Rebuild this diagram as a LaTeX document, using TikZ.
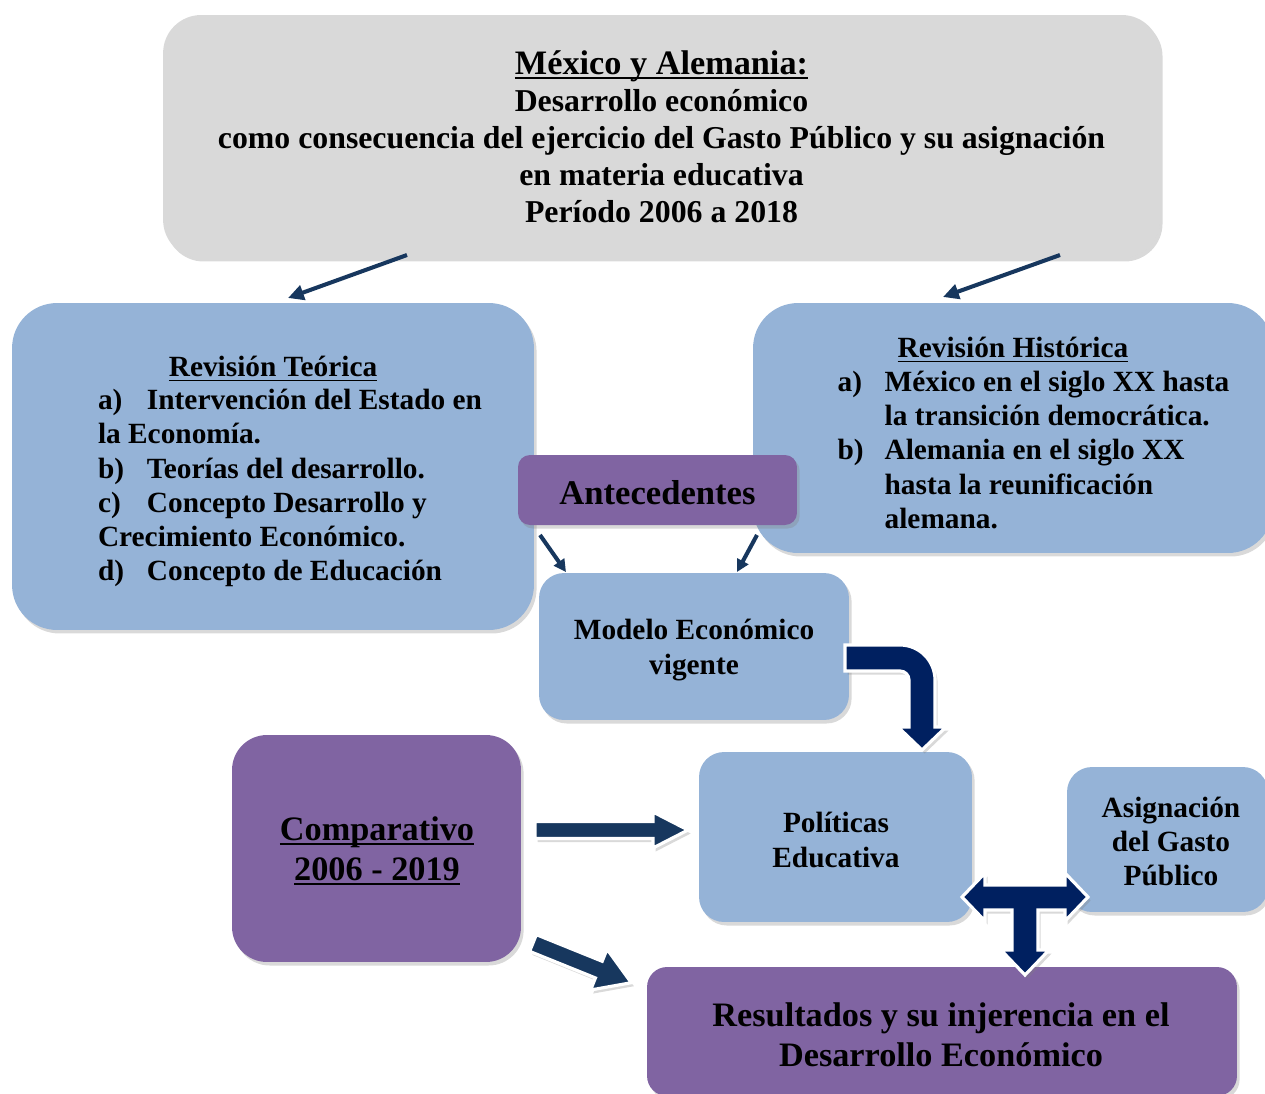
\documentclass[tikz,border=0pt]{standalone}
\usepackage{fontspec}
\setmainfont{Liberation Serif}
\usetikzlibrary{positioning, shadows, arrows.meta}

\definecolor{titlegray}{HTML}{D9D9D9}
\definecolor{boxblue}{HTML}{95B3D7}
\definecolor{boxpurple}{HTML}{8064A2}
\definecolor{arrownavy}{HTML}{17375E}
\definecolor{deepnavy}{HTML}{002060}

% thick underline
\newcommand{\thickul}[1]{\leavevmode\setbox0\hbox{#1}\rlap{\rule[-2.6pt]{\wd0}{1pt}}\box0}

% block arrow: start, angle, length, half shaft, half head, head length
\newcommand{\fatarrow}[6]{%
	\begin{scope}[shift={#1}, rotate=#2]
		\filldraw[fatarrowstyle] (0,-#4) -- ({#3-#6},-#4) -- ({#3-#6},-#5) -- (#3,0)
		-- ({#3-#6},#5) -- ({#3-#6},#4) -- (0,#4) -- cycle;
	\end{scope}}

\begin{document}
\begin{tikzpicture}[
		x=0.02cm, y=-0.02cm,
		>={Triangle[length=9pt, width=8.5pt]},
		box/.style={rectangle, inner sep=0pt, align=center,
			drop shadow={shadow xshift=1.5pt, shadow yshift=-2pt, opacity=0.3}},
		graybox/.style={box, fill=titlegray},
		bluebox/.style={box, fill=boxblue},
		purplebox/.style={box, fill=boxpurple},
		bodytext/.style={font=\bfseries\fontsize{16.7}{19.4}\selectfont, inner sep=0pt},
		boxtext/.style={font=\bfseries\fontsize{16.7}{19.4}\selectfont, inner sep=0pt, align=center},
		bigtext/.style={font=\bfseries\fontsize{19.5}{22.8}\selectfont, inner sep=0pt, align=center},
		thinarrow/.style={->, line width=2.3pt, draw=arrownavy},
		fatarrowstyle/.style={fill=arrownavy, draw=white, line width=1.8pt,
			drop shadow={shadow xshift=1.5pt, shadow yshift=-2pt, opacity=0.3}},
		bentarrow/.style={fatarrowstyle, fill=deepnavy}
		]
		
		\clip (0,0) rectangle (1265,1093);
		
		% ==========================================
		% TITLE
		% ==========================================
		\node[graybox, minimum width=19.94cm, minimum height=4.86cm, rounded corners=0.76cm,
		font=\bfseries\fontsize{18.1}{21}\selectfont] (title) at (661.5,136.5) {
			{\fontsize{19.5}{21}\selectfont\thickul{México y Alemania:}}\\
			Desarrollo económico\\
			como consecuencia del ejercicio del Gasto Público y su asignación\\
			en materia educativa\\
			Período 2006 a 2018
		};
		
		% ==========================================
		% REVISION TEORICA
		% ==========================================
		\node[bluebox, minimum width=10.44cm, minimum height=6.54cm, rounded corners=0.9cm] (teorica) at (273,466.5) {};
		\node[bodytext] (teoricahead) at (273,369) {\thickul{Revisión Teórica}};
		\node[bodytext, align=left] (teoricabody) at (290,488) {
			\makebox[0.98cm][l]{a)}Intervención del Estado en\\
			la Economía.\\
			\makebox[0.98cm][l]{b)}Teorías del desarrollo.\\
			\makebox[0.98cm][l]{c)}Concepto Desarrollo y\\
			Crecimiento Económico.\\
			\makebox[0.98cm][l]{d)}Concepto de Educación
		};
		
		% ==========================================
		% REVISION HISTORICA
		% ==========================================
		\node[bluebox, minimum width=10.4cm, minimum height=5cm, rounded corners=0.9cm] (historica) at (1013,428) {};
		\node[bodytext] (historicahead) at (1013,350) {\thickul{Revisión Histórica}};
		\node[bodytext, align=left] (historicabody) at (1033.5,450) {
			\makebox[0.94cm][l]{a)}México en el siglo XX hasta\\
			\hspace*{0.94cm}la transición democrática.\\
			\makebox[0.94cm][l]{b)}Alemania en el siglo XX\\
			\hspace*{0.94cm}hasta la reunificación\\
			\hspace*{0.94cm}alemana.
		};
		
		% ==========================================
		% MIDDLE BOXES
		% ==========================================
		\node[purplebox, minimum width=5.58cm, minimum height=1.4cm, rounded corners=0.24cm] (antecedentes) at (657.5,490) {};
		\node[font=\bfseries\fontsize{19.7}{22}\selectfont, inner sep=0pt] (antecedentestext) at (657.5,493) {Antecedentes};
		
		\node[bluebox, minimum width=6.2cm, minimum height=2.94cm, rounded corners=0.5cm] (modelo) at (694,646.5) {};
		\node[boxtext] (modelotext) at (694,650) {Modelo Económico\\ vigente};
		
		\node[purplebox, minimum width=5.78cm, minimum height=4.54cm, rounded corners=0.7cm] (comparativo) at (376.5,848.5) {};
		\node[bigtext] (comparativotext) at (377,851) {\thickul{Comparativo}\\ \thickul{2006 - 2019}};
		
		\node[bluebox, minimum width=5.46cm, minimum height=3.4cm, rounded corners=0.5cm] (politicas) at (835.5,837) {};
		\node[boxtext] (politicastext) at (836,840) {Políticas\\ Educativa};
		
		\node[bluebox, minimum width=4.02cm, minimum height=2.9cm, rounded corners=0.5cm] (asignacion) at (1167.5,839.5) {};
		\node[boxtext] (asignaciontext) at (1171,841.5) {Asignación\\ del Gasto\\ Público};
		
		\node[purplebox, minimum width=11.8cm, minimum height=2.58cm, rounded corners=0.4cm] (resultados) at (942,1031.5) {};
		\node[bigtext] (resultadostext) at (941,1035) {Resultados y su injerencia en el\\ Desarrollo Económico};
		
		% ==========================================
		% THIN ARROWS
		% ==========================================
		\coordinate (titleleft) at (407,255);
		\coordinate (teoricatop) at (288,298);
		\coordinate (titleright) at (1060,255);
		\coordinate (historicatop) at (943,297);
		\coordinate (antleft) at (540,535);
		\coordinate (modeloleft) at (566,572);
		\coordinate (antright) at (757,535);
		\coordinate (modeloright) at (737,572);
		
		\draw[thinarrow] (titleleft) -- (teoricatop);
		\draw[thinarrow] (titleright) -- (historicatop);
		\draw[thinarrow, >={Triangle[length=7pt, width=7pt]}] (antleft) -- (modeloleft);
		\draw[thinarrow, >={Triangle[length=7pt, width=7pt]}] (antright) -- (modeloright);
		
		% ==========================================
		% BLOCK ARROWS
		% ==========================================
		\coordinate (cmpright) at (535,830);
		\coordinate (cmpdown) at (533,943);
		\fatarrow{(cmpright)}{0}{153}{8.5}{18}{35}
		\fatarrow{(cmpdown)}{-22}{106}{9}{22}{35}
		
		% bent arrow from modelo down to politicas
		\filldraw[bentarrow] (845,645) -- (900,645) arc[start angle=-90, end angle=0, radius=35]
		-- (935,727) -- (946,727) -- (922,750) -- (898,727) -- (909,727) -- (909,680)
		arc[start angle=0, end angle=-90, radius=9] -- (845,671) -- cycle;
		
		% T arrow between politicas, asignacion and resultados
		\filldraw[bentarrow] (962,897) -- (985,873) -- (985,885) -- (1065,885) -- (1065,873)
		-- (1088,897) -- (1065,921) -- (1065,910) -- (1038,910) -- (1038,950) -- (1049,950)
		-- (1025,975) -- (1001,950) -- (1012,950) -- (1012,910) -- (985,910) -- (985,921) -- cycle;
		
	\end{tikzpicture}
\end{document}
